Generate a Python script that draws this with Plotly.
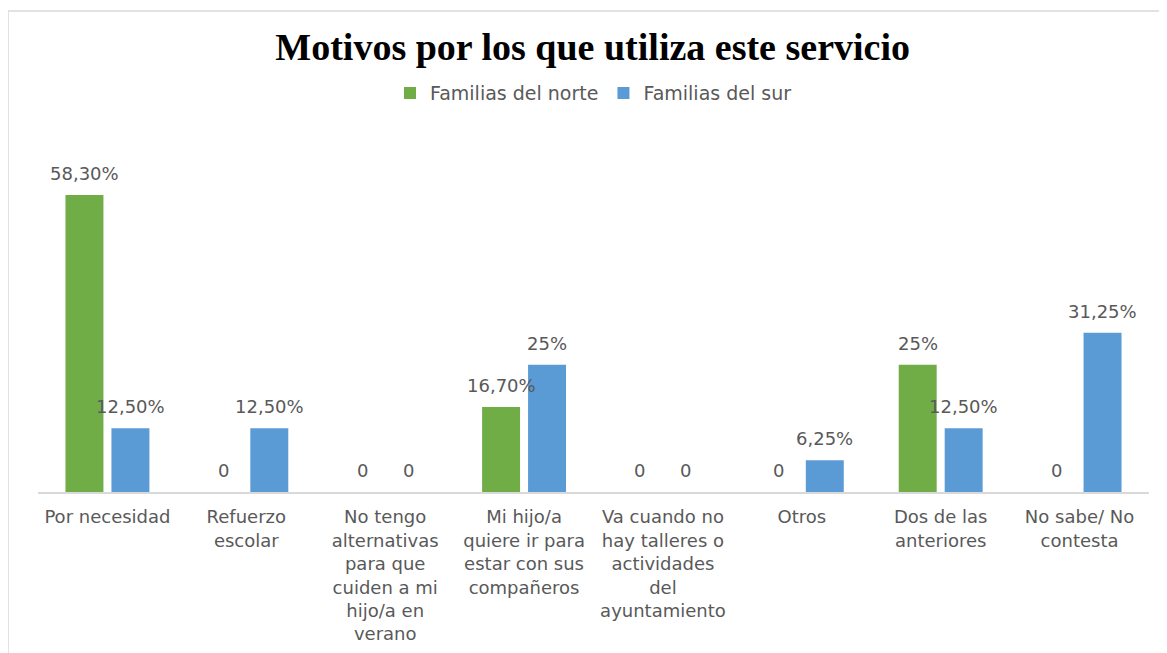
import plotly.graph_objects as go

# chart data
categorias = [
    "Por necesidad",
    "Refuerzo<br>escolar",
    "No tengo<br>alternativas<br>para que<br>cuiden a mi<br>hijo/a en<br>verano",
    "Mi hijo/a<br>quiere ir para<br>estar con sus<br>compañeros",
    "Va cuando no<br>hay talleres o<br>actividades<br>del<br>ayuntamiento",
    "Otros",
    "Dos de las<br>anteriores",
    "No sabe/ No<br>contesta",
]
norte = [58.3, 0, 0, 16.7, 0, 0, 25, 0]
sur = [12.5, 12.5, 0, 25, 0, 6.25, 12.5, 31.25]
etiquetas_norte = ["58,30%", "0", "0", "16,70%", "0", "0", "25%", "0"]
etiquetas_sur = ["12,50%", "12,50%", "0", "25%", "0", "6,25%", "12,50%", "31,25%"]

VERDE = "#70AD47"
AZUL = "#5B9BD5"
GRIS = "#595959"
font_dict = dict(family="DejaVu Sans", size=18, color=GRIS)

fig = go.Figure()
fig.add_trace(go.Bar(x=categorias, y=norte, name="Familias del norte",
                     marker=dict(color=VERDE, line=dict(width=0))))
fig.add_trace(go.Bar(x=categorias, y=sur, name="Familias del sur",
                     marker=dict(color=AZUL, line=dict(width=0))))

# data labels above each bar
for serie, etiquetas, shift in ((norte, etiquetas_norte, -23), (sur, etiquetas_sur, 23)):
    for cat, val, txt in zip(categorias, serie, etiquetas):
        fig.add_annotation(x=cat, y=val, text=txt, showarrow=False,
                           xshift=shift, yshift=9, yanchor="bottom",
                           font=font_dict)

# light frame around the chart (left and top edges)
fig.add_shape(type="line", xref="paper", yref="paper",
              x0=-0.027, x1=-0.027, y0=1.453, y1=-0.52,
              line=dict(color="#D9D9D9", width=1.5))
fig.add_shape(type="line", xref="paper", yref="paper",
              x0=-0.027, x1=1.03, y0=1.453, y1=1.453,
              line=dict(color="#D9D9D9", width=1.5))

fig.update_layout(
    width=1167, height=653,
    font=font_dict,
    plot_bgcolor="white", paper_bgcolor="white",
    margin=dict(l=30, r=26, t=153, b=169),
    barmode="group", bargap=0.338, bargroupgap=0.174,
    title=dict(text="<b>Motivos por los que utiliza este servicio</b>",
               font=dict(family="Liberation Serif", size=38, color="black"),
               x=0.501, xanchor="center", y=0.94, yanchor="middle",
               yref="container"),
    legend=dict(orientation="h", x=0.5, xanchor="center", y=1.205,
                yanchor="middle", font=dict(family="DejaVu Sans", size=19, color=GRIS),
                itemwidth=30, traceorder="normal"),
    showlegend=True,
)
fig.update_xaxes(showline=True, linecolor="#D9D9D9", linewidth=1.5,
                 ticks="", tickfont=font_dict, showgrid=False,
                 ticklabelstandoff=8)
fig.update_yaxes(visible=False, range=[0, 65], showgrid=False, zeroline=False)

fig.write_html("out.html")
